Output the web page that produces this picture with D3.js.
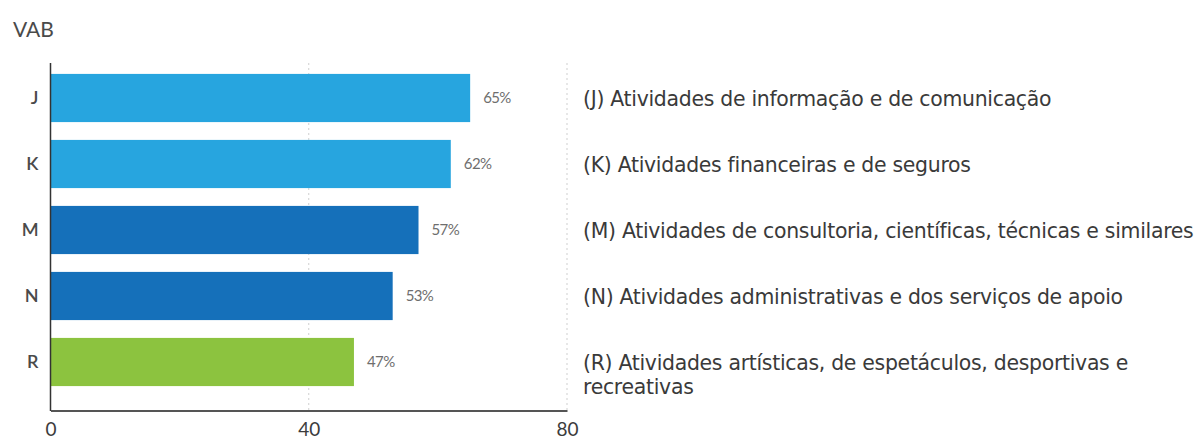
<!DOCTYPE html>
<html>
<head>
<meta charset="utf-8">
<script src="https://cdn.jsdelivr.net/npm/d3@7"></script>
<style>
  body { margin: 0; background: #fff; }
  svg { display: block; font-family: Lato, "Open Sans", sans-serif; }
</style>
</head>
<body>
<svg id="chart" width="1194" height="441"></svg>
<script>
const categories = ["J", "K", "M", "N", "R"];
const values = [65, 62, 57, 53, 47];
const barColors = ["#27a5df", "#27a5df", "#1570ba", "#1570ba", "#8cc33f"];
const legendLines = [
  ["(J) Atividades de informação e de comunicação"],
  ["(K) Atividades financeiras e de seguros"],
  ["(M) Atividades de consultoria, científicas, técnicas e similares"],
  ["(N) Atividades administrativas e dos serviços de apoio"],
  ["(R) Atividades artísticas, de espetáculos, desportivas e", "recreativas"]
];
const xTicks = [0, 40, 80];

const svg = d3.select("#chart");

const x = d3.scaleLinear().domain([0, 80]).range([50.5, 567]);
const y = d3.scaleBand()
  .domain(categories)
  .range([65, 395])
  .paddingInner(0.27)
  .paddingOuter(0.135);

// title
svg.append("text")
  .attr("x", 13).attr("y", 37)
  .attr("font-size", 21)
  .attr("fill", "#4a4a4a")
  .text("VAB");

// dotted gridlines at 40 and 80
svg.append("g")
  .selectAll("line")
  .data(xTicks.filter(d => d > 0))
  .join("line")
  .attr("x1", d => x(d)).attr("x2", d => x(d))
  .attr("y1", 63).attr("y2", 410)
  .attr("stroke", "#cfcfcf")
  .attr("stroke-width", 1)
  .attr("stroke-dasharray", "2,3");

// bars
svg.append("g")
  .selectAll("rect")
  .data(values)
  .join("rect")
  .attr("x", x(0))
  .attr("y", (d, i) => y(categories[i]))
  .attr("width", d => x(d) - x(0))
  .attr("height", y.bandwidth())
  .attr("fill", (d, i) => barColors[i]);

// value labels
svg.append("g")
  .selectAll("text")
  .data(values)
  .join("text")
  .attr("x", d => x(d) + 13)
  .attr("y", (d, i) => y(categories[i]) + y.bandwidth() / 2)
  .attr("dy", "0.35em")
  .attr("font-size", 15)
  .attr("letter-spacing", "-0.6")
  .attr("fill", "#6e6e6e")
  .text(d => d + "%");

// y axis
const yAxis = svg.append("g")
  .attr("transform", `translate(${x(0)},0)`)
  .call(d3.axisLeft(y).tickSize(0).tickPadding(12));
yAxis.select(".domain").remove();
yAxis.selectAll("text")
  .attr("font-size", 18)
  .attr("font-weight", 600)
  .attr("font-family", "Lato, 'Open Sans', sans-serif")
  .attr("fill", "#4a4a4a");
svg.append("line")
  .attr("x1", x(0)).attr("x2", x(0))
  .attr("y1", 63).attr("y2", 411)
  .attr("stroke", "#333").attr("stroke-width", 1.5);

// x axis
const xAxis = svg.append("g")
  .attr("transform", "translate(0,410.5)")
  .call(d3.axisBottom(x).tickValues(xTicks).tickSize(0).tickPadding(12));
xAxis.select(".domain")
  .attr("stroke", "#555").attr("stroke-width", 2);
xAxis.selectAll("text")
  .attr("font-size", 19)
  .attr("font-family", "Lato, 'Open Sans', sans-serif")
  .attr("fill", "#3c3c3c");

// legend descriptions
const legend = svg.append("g")
  .attr("font-family", "'DejaVu Sans', sans-serif")
  .attr("font-size", 17)
  .attr("letter-spacing", "-0.3")
  .attr("fill", "#3a3a3a");
legendLines.forEach((lines, i) => {
  const cy = y(categories[i]) + y.bandwidth() / 2;
  const t = legend.append("text")
    .attr("x", 583)
    .attr("y", cy + 1);
  lines.forEach((line, j) => {
    t.append("tspan")
      .attr("x", 583)
      .attr("dy", j === 0 ? "0.35em" : 24)
      .text(line);
  });
});

// the widest line should span to the right edge like the reference
let widest = 0;
legend.selectAll("tspan").each(function () {
  widest = Math.max(widest, this.getComputedTextLength());
});
legend.attr("font-size", 17 * 607 / widest);
</script>
</body>
</html>
